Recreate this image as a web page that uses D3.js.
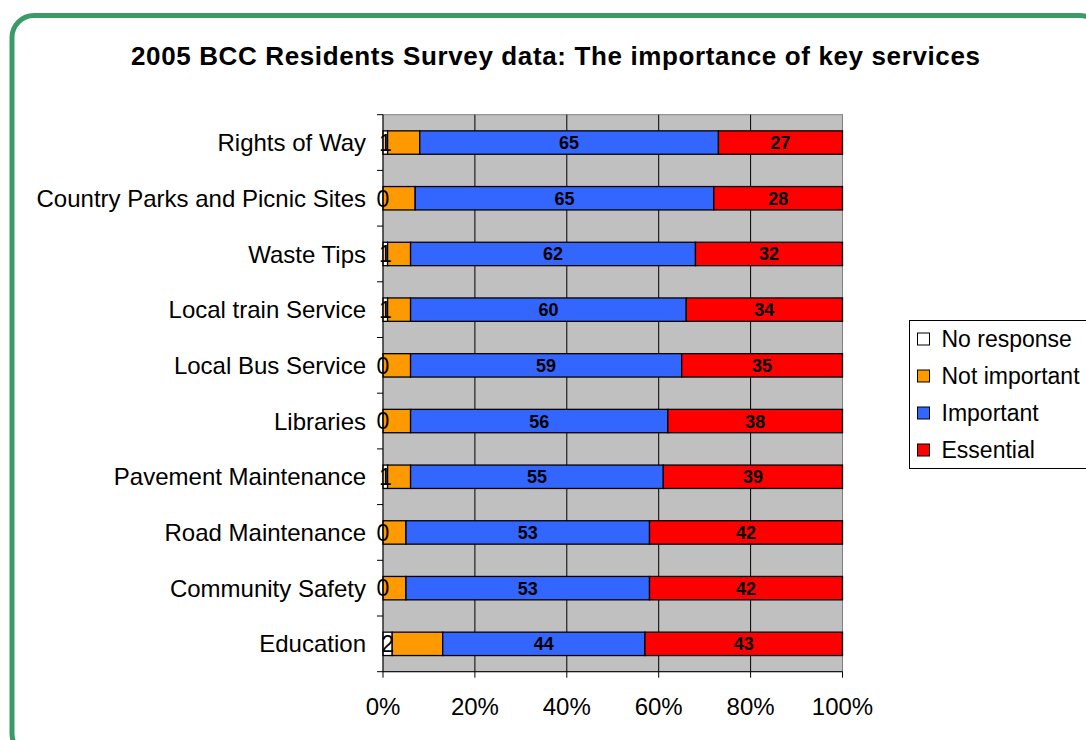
<!DOCTYPE html>
<html>
<head>
<meta charset="utf-8">
<script src="https://cdn.jsdelivr.net/npm/d3@7"></script>
<style>
  body { margin: 0; background: #fff; }
  svg { display: block; font-family: "Liberation Sans", Arial, sans-serif; }
</style>
</head>
<body>
<svg id="chart" width="1086" height="740"></svg>
<script>
// survey data, one value per category (top to bottom)
const categories = ["Rights of Way", "Country Parks and Picnic Sites", "Waste Tips",
  "Local train Service", "Local Bus Service", "Libraries", "Pavement Maintenance",
  "Road Maintenance", "Community Safety", "Education"];
const noResponse   = [1, 0, 1, 1, 0, 0, 1, 0, 0, 2];
const notImportant = [7, 7, 5, 5, 6, 6, 5, 5, 5, 11];
const important    = [65, 65, 62, 60, 59, 56, 55, 53, 53, 44];
const essential    = [27, 28, 32, 34, 35, 38, 39, 42, 42, 43];
const seriesNames  = ["No response", "Not important", "Important", "Essential"];
const seriesColors = ["#ffffff", "#ff9900", "#3366ff", "#ff0000"];
const xTicks = [0, 0.2, 0.4, 0.6, 0.8, 1];

const svg = d3.select("#chart");

// rounded green frame
svg.append("rect")
  .attr("x", 12).attr("y", 15.5)
  .attr("width", 1090).attr("height", 740)
  .attr("rx", 22)
  .attr("fill", "none")
  .attr("stroke", "#3a9a68")
  .attr("stroke-width", 5);

svg.append("text")
  .attr("x", 555.5).attr("y", 65)
  .attr("text-anchor", "middle")
  .attr("font-size", 26).attr("font-weight", "bold")
  .attr("textLength", 849).attr("lengthAdjust", "spacing")
  .text("2005 BCC Residents Survey data: The importance of key services");

const plot = { left: 383, right: 842.5, top: 114.7, bottom: 671.7 };

const rows = categories.map((c, i) => {
  const vals = [noResponse[i], notImportant[i], important[i], essential[i]];
  return { cat: c, vals: vals, total: d3.sum(vals) };
});

const x = d3.scaleLinear().domain([0, 1]).range([plot.left, plot.right]);
const y = d3.scaleBand().domain(categories).range([plot.top, plot.bottom])
  .paddingInner(0.58).paddingOuter(0.29);
const band = (plot.bottom - plot.top) / categories.length;

// plot background
svg.append("rect")
  .attr("x", plot.left).attr("y", plot.top)
  .attr("width", plot.right - plot.left).attr("height", plot.bottom - plot.top)
  .attr("fill", "#c0c0c0")
  .attr("stroke", "#808080");

// vertical gridlines
svg.append("g").selectAll("line")
  .data(xTicks.slice(1, -1))
  .join("line")
  .attr("x1", d => x(d)).attr("x2", d => x(d))
  .attr("y1", plot.top).attr("y2", plot.bottom)
  .attr("stroke", "#000").attr("stroke-width", 1);

// stacked bars
const stack = d3.stack().keys([0, 1, 2, 3]).value((r, k) => r.vals[k] / r.total);
const layers = stack(rows);

const g = svg.append("g");
layers.forEach((layer, k) => {
  g.selectAll(null)
    .data(layer)
    .join("rect")
    .attr("x", d => x(d[0]))
    .attr("width", d => x(d[1]) - x(d[0]))
    .attr("y", d => y(d.data.cat))
    .attr("height", y.bandwidth())
    .attr("fill", seriesColors[k])
    .attr("stroke", "#000")
    .attr("stroke-width", 1.3);
});

// no response labels (normal weight)
g.selectAll(null)
  .data(layers[0])
  .join("text")
  .attr("x", d => (x(d[0]) + x(d[1])) / 2)
  .attr("y", d => y(d.data.cat) + y.bandwidth() / 2)
  .attr("dy", "0.36em")
  .attr("text-anchor", "middle")
  .attr("font-size", 23)
  .text(d => d.data.vals[0]);

// important / essential labels (bold)
[2, 3].forEach(k => {
  g.selectAll(null)
    .data(layers[k])
    .join("text")
    .attr("x", d => (x(d[0]) + x(d[1])) / 2)
    .attr("y", d => y(d.data.cat) + y.bandwidth() / 2)
    .attr("dy", "0.36em")
    .attr("text-anchor", "middle")
    .attr("font-size", 18).attr("font-weight", "bold")
    .text(d => d.data.vals[k]);
});

// axes
svg.append("line")
  .attr("x1", plot.left).attr("x2", plot.left)
  .attr("y1", plot.top).attr("y2", plot.bottom)
  .attr("stroke", "#000");
svg.append("line")
  .attr("x1", plot.left).attr("x2", plot.right)
  .attr("y1", plot.bottom).attr("y2", plot.bottom)
  .attr("stroke", "#000");

// category ticks at band boundaries
svg.append("g").selectAll("line")
  .data(d3.range(categories.length + 1))
  .join("line")
  .attr("x1", plot.left - 6).attr("x2", plot.left)
  .attr("y1", i => plot.top + i * band).attr("y2", i => plot.top + i * band)
  .attr("stroke", "#000");

svg.append("g").selectAll("text")
  .data(categories)
  .join("text")
  .attr("x", 366)
  .attr("y", d => y(d) + y.bandwidth() / 2)
  .attr("dy", "0.36em")
  .attr("text-anchor", "end")
  .attr("font-size", 24)
  .text(d => d);

// x ticks
svg.append("g").selectAll("line")
  .data(xTicks)
  .join("line")
  .attr("x1", d => x(d)).attr("x2", d => x(d))
  .attr("y1", plot.bottom).attr("y2", plot.bottom + 6)
  .attr("stroke", "#000");
svg.append("g").selectAll("text")
  .data(xTicks)
  .join("text")
  .attr("x", d => x(d))
  .attr("y", 715)
  .attr("text-anchor", "middle")
  .attr("font-size", 24)
  .text(d => d3.format(".0%")(d));

// legend
const lg = svg.append("g");
lg.append("rect")
  .attr("x", 909.5).attr("y", 320.5)
  .attr("width", 200).attr("height", 148)
  .attr("fill", "#fff").attr("stroke", "#000");
const items = lg.selectAll("g")
  .data(seriesNames)
  .join("g")
  .attr("transform", (d, i) => `translate(917.5, ${339 + i * 37})`);
items.append("rect")
  .attr("x", 0).attr("y", -6)
  .attr("width", 12).attr("height", 12)
  .attr("fill", (d, i) => seriesColors[i])
  .attr("stroke", "#000");
items.append("text")
  .attr("x", 24).attr("dy", "0.36em")
  .attr("font-size", 23)
  .text(d => d);
</script>
</body>
</html>
